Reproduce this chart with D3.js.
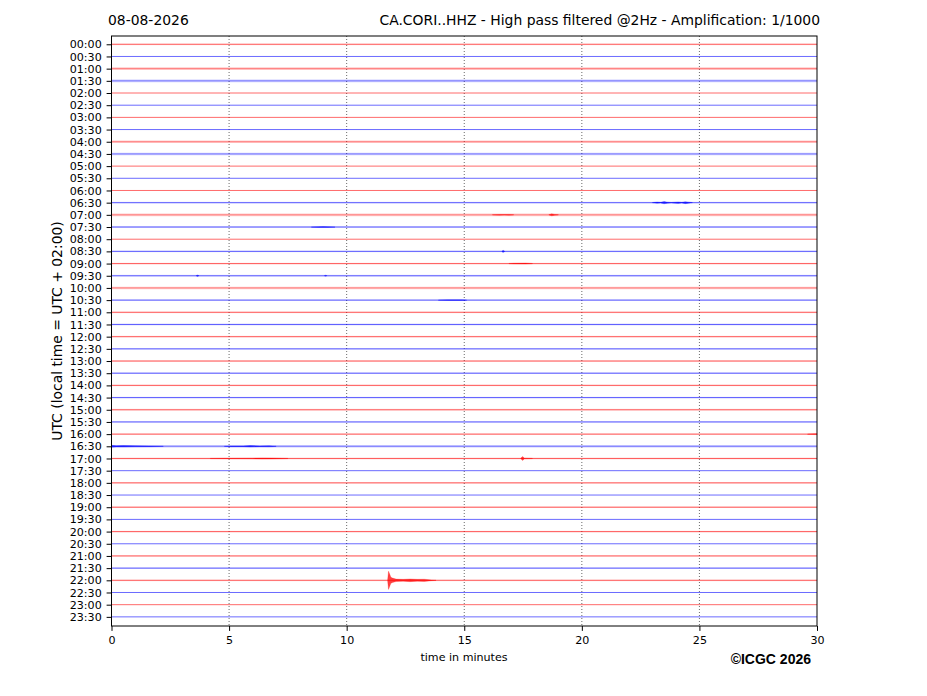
<!DOCTYPE html>
<html><head><meta charset="utf-8">
<script src="https://cdn.jsdelivr.net/npm/d3@7"></script>
<style>body{margin:0;background:#fff}svg{display:block}text{font-family:"DejaVu Sans",sans-serif}</style>
</head><body><svg id="c" width="927" height="696"></svg>
<script>
// ---- data ----
const rowLabels = [];
for (let h = 0; h < 24; h++) { const hh = String(h).padStart(2,"0"); rowLabels.push(hh+":00", hh+":30"); }
const rowColors = ["red","blue"];
const xTicks = [0,5,10,15,20,25,30];
const gridMinutes = [5,10,15,20,25];
// noise level per row (0 = quiet, 1 = slightly noisy, 2 = noisy)
const noiseLevel = [1,0,2,2,0,0,0,0,2,2,0,0,0,1,2,1,0,1,1,1,2,1,1,1,1,1,1,1,1,1,1,1,1,2,1,0,1,0,1,0,1,0,1,1,1,0,0,0];
// events: row label, then envelope points [minute, half-amplitude in row units]
const events = [
  ["06:30", [[23.0,0.01],[23.2,0.05],[23.35,0.03],[23.5,0.09],[23.65,0.04],[23.8,0.02],[24.1,0.06],[24.25,0.03],[24.4,0.08],[24.55,0.04],[24.7,0.01]]],
  ["07:00", [[16.2,0.01],[16.5,0.03],[16.7,0.02],[16.9,0.03],[17.1,0.01]]],
  ["07:00", [[18.6,0.01],[18.72,0.08],[18.85,0.03],[19.0,0.01]]],
  ["07:30", [[8.5,0.01],[8.8,0.03],[9.0,0.04],[9.2,0.03],[9.5,0.01]]],
  ["08:30", [[16.6,0.01],[16.65,0.1],[16.72,0.01]]],
  ["09:00", [[16.9,0.01],[17.1,0.03],[17.6,0.04],[17.9,0.01]]],
  ["09:30", [[3.6,0.01],[3.65,0.06],[3.72,0.01]]],
  ["09:30", [[9.05,0.01],[9.1,0.04],[9.16,0.01]]],
  ["10:30", [[13.9,0.01],[14.3,0.03],[14.9,0.03],[15.1,0.01]]],
  ["16:00", [[29.6,0.01],[29.9,0.04],[30.0,0.04]]],
  ["16:30", [[0.0,0.08],[0.2,0.05],[0.5,0.06],[1.0,0.04],[1.6,0.03],[2.2,0.01]]],
  ["16:30", [[4.8,0.01],[5.1,0.03],[5.6,0.03],[5.9,0.06],[6.3,0.03],[6.7,0.04],[7.0,0.01]]],
  ["17:00", [[4.2,0.01],[5.0,0.02],[6.0,0.03],[6.4,0.05],[6.8,0.04],[7.5,0.01]]],
  ["17:00", [[17.4,0.01],[17.48,0.16],[17.56,0.03],[17.9,0.01]]],
  ["22:00", [[11.74,0.01],[11.78,0.75],[11.82,0.55],[11.88,0.25],[11.95,0.18],[12.1,0.1],[12.4,0.08],[12.7,0.11],[13.0,0.08],[13.3,0.09],[13.6,0.03],[13.8,0.01]]]
];

// ---- layout ----
const svg = d3.select("#c");
const L = 111.5, R = 817, T = 36, B = 626;
const x = d3.scaleLinear().domain([0,30]).range([L,R]);
const y = d3.scaleLinear().domain([-0.68, 47.75]).range([T,B]);
const rowIndex = l => rowLabels.indexOf(l);

// grid
svg.append("g").selectAll("line").data(gridMinutes).join("line")
  .attr("x1", d=>x(d)).attr("x2", d=>x(d)).attr("y1", T).attr("y2", B)
  .attr("stroke","#444").attr("stroke-width",0.8).attr("stroke-dasharray","1,2");

// traces
const tr = svg.append("g");
rowLabels.forEach((lab,i) => {
  const c = rowColors[i%2];
  const n = noiseLevel[i];
  if (n > 0) {
    tr.append("line").attr("x1",x(0)).attr("x2",x(30)).attr("y1",y(i)).attr("y2",y(i))
      .attr("stroke",c).attr("stroke-width", n===2?2.6:1.8).attr("stroke-opacity", n===2?0.2:0.12);
  }
  tr.append("line").attr("x1",x(0)).attr("x2",x(30)).attr("y1",y(i)).attr("y2",y(i))
    .attr("stroke",c).attr("stroke-width",0.9).attr("stroke-opacity", n===2?0.45:0.65);
});
const area = d3.area().x(d=>x(d[0]));
events.forEach(([lab, pts]) => {
  const i = rowIndex(lab);
  tr.append("path").datum(pts)
    .attr("d", area.y0(d=>y(i - d[1])).y1(d=>y(i + d[1])))
    .attr("fill", rowColors[i%2]).attr("fill-opacity",0.75)
    .attr("stroke", rowColors[i%2]).attr("stroke-width",0.4).attr("stroke-opacity",0.6);
});

// frame
svg.append("rect").attr("x",L).attr("y",T).attr("width",R-L).attr("height",B-T)
  .attr("fill","none").attr("stroke","#000").attr("stroke-width",1);

// axes
const xa = svg.append("g").attr("transform",`translate(0,${B})`)
  .call(d3.axisBottom(x).tickValues(xTicks).tickFormat(d3.format("d")).tickSize(4.9).tickPadding(4.9));
xa.select(".domain").remove();
xa.selectAll("text").attr("font-size","11.1px").attr("fill","#000").attr("font-family","DejaVu Sans");
const ya = svg.append("g").attr("transform",`translate(${L},0)`)
  .call(d3.axisLeft(y).tickValues(d3.range(rowLabels.length)).tickFormat(i=>rowLabels[i]).tickSize(4.9).tickPadding(4.9));
ya.select(".domain").remove();
ya.selectAll("text").attr("font-size","11.1px").attr("fill","#000").attr("font-family","DejaVu Sans");

// texts
svg.append("text").attr("x",108).attr("y",25).attr("font-size","13.9px").text("08-08-2026");
svg.append("text").attr("x",820).attr("y",25).attr("text-anchor","end").attr("font-size","13.9px")
  .text("CA.CORI..HHZ - High pass filtered @2Hz - Amplification: 1/1000");
svg.append("text").attr("transform","translate(62,331) rotate(-90)").attr("text-anchor","middle")
  .attr("font-size","13.9px").text("UTC (local time = UTC + 02:00)");
svg.append("text").attr("x",464).attr("y",661).attr("text-anchor","middle").attr("font-size","11.1px").text("time in minutes");
svg.append("text").attr("x",811).attr("y",664).attr("text-anchor","end").attr("font-size","14px")
  .attr("font-weight","bold").style("font-family","'Liberation Sans', Arial, sans-serif").text("©ICGC 2026");
</script></body></html>
